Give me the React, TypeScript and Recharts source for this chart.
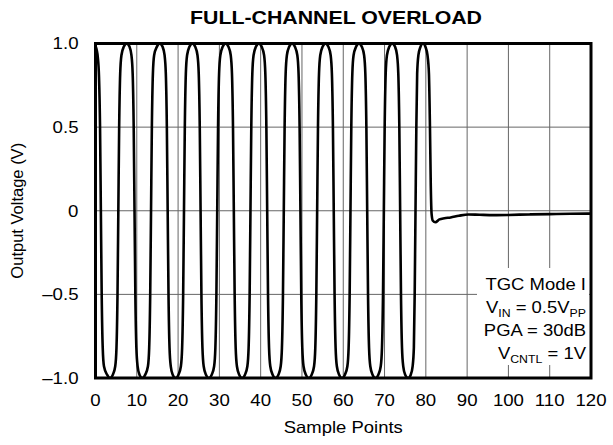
import React from "react"
import { LineChart, Line, XAxis, YAxis, CartesianGrid, ReferenceArea } from "recharts"

const FONT = '"Liberation Sans", Arial, Helvetica, sans-serif'

// sample point, output voltage (V)
const trace: [number, number][] = [
  [0, 0.985], [0.3, 0.96], [0.55, 0.92], [0.85, 0.8], [1.1, 0.5], [1.3, 0], [1.5, -0.5], [1.75, -0.82], [2.05, -0.93], [2.8, -0.98], [3.5, -1],
  [4.2, -0.98], [4.78, -0.93], [5.08, -0.82], [5.33, -0.5], [5.53, 0], [5.73, 0.5], [5.98, 0.82], [6.28, 0.93], [6.85, 0.98], [7.55, 1],
  [8.25, 0.98], [8.7, 0.93], [9.0, 0.82], [9.25, 0.5], [9.45, 0], [9.65, -0.5], [9.9, -0.82], [10.2, -0.93], [10.65, -0.98], [11.35, -1],
  [12.05, -0.98], [12.7, -0.93], [13.0, -0.82], [13.25, -0.5], [13.45, 0], [13.65, 0.5], [13.9, 0.82], [14.2, 0.93], [14.85, 0.98], [15.55, 1],
  [16.25, 0.98], [16.73, 0.93], [17.03, 0.82], [17.28, 0.5], [17.48, 0], [17.68, -0.5], [17.93, -0.82], [18.23, -0.93], [18.7, -0.98], [19.4, -1],
  [20.1, -0.98], [20.68, -0.93], [20.98, -0.82], [21.23, -0.5], [21.43, 0], [21.63, 0.5], [21.88, 0.82], [22.18, 0.93], [22.75, 0.98], [23.45, 1],
  [24.15, 0.98], [24.7, 0.93], [25.0, 0.82], [25.25, 0.5], [25.45, 0], [25.65, -0.5], [25.9, -0.82], [26.2, -0.93], [26.75, -0.98], [27.45, -1],
  [28.15, -0.98], [28.73, -0.93], [29.03, -0.82], [29.28, -0.5], [29.48, 0], [29.68, 0.5], [29.93, 0.82], [30.23, 0.93], [30.8, 0.98], [31.5, 1],
  [32.2, 0.98], [32.75, 0.93], [33.05, 0.82], [33.3, 0.5], [33.5, 0], [33.7, -0.5], [33.95, -0.82], [34.25, -0.93], [34.8, -0.98], [35.5, -1],
  [36.2, -0.98], [36.78, -0.93], [37.08, -0.82], [37.33, -0.5], [37.53, 0], [37.73, 0.5], [37.98, 0.82], [38.28, 0.93], [38.85, 0.98], [39.55, 1],
  [40.25, 0.98], [40.83, 0.93], [41.13, 0.82], [41.38, 0.5], [41.58, 0], [41.78, -0.5], [42.03, -0.82], [42.33, -0.93], [42.9, -0.98], [43.6, -1],
  [44.3, -0.98], [44.85, -0.93], [45.15, -0.82], [45.4, -0.5], [45.6, 0], [45.8, 0.5], [46.05, 0.82], [46.35, 0.93], [46.9, 0.98], [47.6, 1],
  [48.3, 0.98], [48.88, 0.93], [49.18, 0.82], [49.43, 0.5], [49.63, 0], [49.83, -0.5], [50.08, -0.82], [50.38, -0.93], [50.95, -0.98], [51.65, -1],
  [52.35, -0.98], [52.93, -0.93], [53.23, -0.82], [53.48, -0.5], [53.68, 0], [53.88, 0.5], [54.13, 0.82], [54.43, 0.93], [55.0, 0.98], [55.7, 1],
  [56.4, 0.98], [56.95, 0.93], [57.25, 0.82], [57.5, 0.5], [57.7, 0], [57.9, -0.5], [58.15, -0.82], [58.45, -0.93], [59.0, -0.98], [59.7, -1],
  [60.4, -0.98], [61.0, -0.93], [61.3, -0.82], [61.55, -0.5], [61.75, 0], [61.95, 0.5], [62.2, 0.82], [62.5, 0.93], [63.1, 0.98], [63.8, 1],
  [64.5, 0.98], [65.05, 0.93], [65.35, 0.82], [65.6, 0.5], [65.8, 0], [66.0, -0.5], [66.25, -0.82], [66.55, -0.93], [67.1, -0.98], [67.8, -1],
  [68.5, -0.98], [69.08, -0.93], [69.38, -0.82], [69.63, -0.5], [69.83, 0], [70.03, 0.5], [70.28, 0.82], [70.58, 0.93], [71.15, 0.98], [71.85, 1],
  [72.55, 0.98], [73.03, 0.93], [73.33, 0.82], [73.58, 0.5], [73.78, 0], [73.98, -0.5], [74.23, -0.82], [74.53, -0.93], [75.0, -0.98], [75.7, -1],
  [76.35, -0.98], [76.8, -0.93], [77.1, -0.82], [77.3, -0.5], [77.5, 0], [77.7, 0.5], [77.9, 0.82], [78.2, 0.93], [78.7, 0.98], [79.3, 1],
  [79.9, 0.98], [80.4, 0.93], [80.75, 0.82], [81.0, 0.5], [81.2, 0.15], [81.4, -0.02], [81.7, -0.06], [82.3, -0.069], [83.3, -0.052],
  [84.5, -0.045], [86, -0.04], [88, -0.03], [90.3, -0.022], [93, -0.024], [96.5, -0.026], [100, -0.025], [105, -0.022], [110, -0.02],
  [115, -0.018], [120, -0.017],
]

const xTicks = [0, 10, 20, 30, 40, 50, 60, 70, 80, 90, 100, 110, 120]
const yTicks = [-1, -0.5, 0, 0.5, 1]
const yTickLabels = ["\u20131.0", "\u20130.5", "0", "0.5", "1.0"]

const data = trace.map(([x, v]) => ({ x, v }))

const XTick = (props: any) => {
  const { x, y, payload } = props
  return (
    <g transform={`translate(${x},${y})`}>
      <text transform="scale(1.13,1)" textAnchor="middle" dy="0.355em" fontSize={16.5} fontFamily={FONT} fill="#000">
        {payload.value}
      </text>
    </g>
  )
}

const YTick = (props: any) => {
  const { x, y, payload } = props
  const label = yTickLabels[yTicks.indexOf(payload.value)]
  return (
    <g transform={`translate(${x},${y})`}>
      <text transform="scale(1.13,1)" textAnchor="end" dy="0.355em" fontSize={16.5} fontFamily={FONT} fill="#000">
        {label}
      </text>
    </g>
  )
}

const XTitle = (props: any) => {
  const vb = props.viewBox || { x: 0, y: 0, width: 0 }
  return (
    <g transform={`translate(${vb.x + vb.width / 2},${vb.y + 49})`}>
      <text transform="scale(1.12,1)" textAnchor="middle" dy="0.355em" fontSize={16.5} fontFamily={FONT} fill="#000">
        Sample Points
      </text>
    </g>
  )
}

const YTitle = (props: any) => {
  const vb = props.viewBox || { x: 0, y: 0, height: 0 }
  return (
    <text
      transform={`translate(${vb.x + 17},${vb.y + vb.height / 2}) rotate(-90)`}
      textAnchor="middle"
      dy="0.355em"
      fontSize={16.5}
      fontFamily={FONT}
      fill="#000"
    >
      Output Voltage (V)
    </text>
  )
}

export default function App() {
  return (
    <div style={{ position: "absolute", left: 0, top: 0, width: 613, height: 445, background: "#fff" }}>
      <LineChart width={613} height={445} data={data} margin={{ top: 43.5, right: 22, bottom: 0, left: 0 }}>
        <CartesianGrid stroke="#666" strokeWidth={1} />
        <XAxis
          type="number"
          dataKey="x"
          domain={[0, 120]}
          ticks={xTicks}
          interval={0}
          allowDataOverflow
          axisLine={false}
          tickLine={false}
          tickSize={0}
          tickMargin={22}
          height={67}
          tick={<XTick />}
          label={<XTitle />}
        />
        <YAxis
          type="number"
          domain={[-1, 1]}
          ticks={yTicks}
          interval={0}
          allowDataOverflow
          axisLine={false}
          tickLine={false}
          tickSize={0}
          tickMargin={17}
          width={95.5}
          tick={<YTick />}
          label={<YTitle />}
        />
        <Line type="monotone" dataKey="v" stroke="#000" strokeWidth={2.6} dot={false} isAnimationActive={false} />
        <ReferenceArea x1={0} x2={120} y1={-1} y2={1} fill="none" fillOpacity={0} stroke="#000" strokeWidth={3} ifOverflow="visible" />
      </LineChart>
      <svg width={613} height={445} style={{ position: "absolute", left: 0, top: 0, pointerEvents: "none" }}>
        <text
          x={336}
          y={24}
          textAnchor="middle"
          fontSize={17.5}
          fontWeight="bold"
          fontFamily={FONT}
          textLength={292}
          lengthAdjust="spacingAndGlyphs"
          fill="#000"
        >
          FULL-CHANNEL OVERLOAD
        </text>
        <rect x={477} y={268} width={112} height={97} fill="#fff" />
        <g transform="translate(586,0) scale(1.12,1)" fontFamily={FONT} fontSize={16.5} fill="#000">
          <text x={0} y={290} textAnchor="end">TGC Mode I</text>
          <text x={0} y={313} textAnchor="end">
            V<tspan dy={4} fontSize={11}>IN</tspan>
            <tspan dy={-4}> = 0.5V</tspan>
            <tspan dy={4} fontSize={11}>PP</tspan>
          </text>
          <text x={0} y={336.5} textAnchor="end">PGA = 30dB</text>
          <text x={0} y={359.5} textAnchor="end">
            V<tspan dy={4} fontSize={11}>CNTL</tspan>
            <tspan dy={-4}> = 1V</tspan>
          </text>
        </g>
      </svg>
    </div>
  )
}
